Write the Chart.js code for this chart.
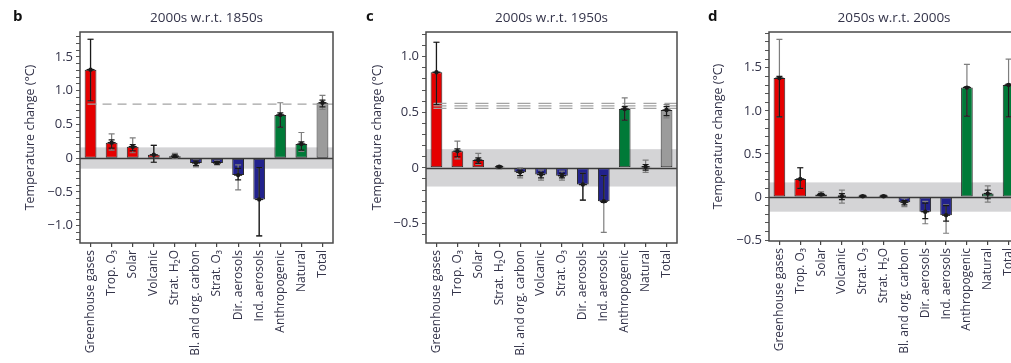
<!DOCTYPE html>
<html>
<head>
<meta charset="utf-8">
<script src="https://cdn.jsdelivr.net/npm/chart.js@4/dist/chart.umd.min.js"></script>
<style>
  html, body { margin: 0; padding: 0; background: #fff; overflow: hidden; width: 1011px; height: 363px; }
  .panel { position: absolute; top: 0; height: 363px; }
</style>
</head>
<body>
<div class="panel" style="left:0px;width:345px"><canvas id="panelB" width="345" height="363"></canvas></div>
<div class="panel" style="left:345px;width:345px"><canvas id="panelC" width="345" height="363"></canvas></div>
<div class="panel" style="left:690px;width:340px"><canvas id="panelD" width="340" height="363"></canvas></div>
<script>
// ---- Panel b: 2000s w.r.t. 1850s ----
const labelsB = ['Greenhouse gases', 'Trop. O\u2083', 'Solar', 'Volcanic', 'Strat. H\u2082O',
  'Bl. and org. carbon', 'Strat. O\u2083', 'Dir. aerosols', 'Ind. aerosols', 'Anthropogenic', 'Natural', 'Total'];
const valuesB  = [1.31, 0.23, 0.17, 0.05, 0.03, -0.07, -0.07, -0.25, -0.61, 0.64, 0.21, 0.82];
const outerLoB = [0.85, 0.12, 0.08, -0.06, 0.00, -0.13, -0.10, -0.47, -1.15, 0.46, 0.10, 0.72];
const outerHiB = [1.76, 0.36, 0.30, 0.19, 0.07, -0.03, -0.04, -0.10, -0.14, 0.82, 0.38, 0.93];
const innerLoB = [0.85, 0.15, 0.11, -0.06, 0.01, -0.11, -0.09, -0.32, -1.15, 0.46, 0.12, 0.76];
const innerHiB = [1.76, 0.27, 0.20, 0.19, 0.05, -0.04, -0.05, -0.15, -0.14, 0.67, 0.24, 0.86];
const refLinesB = [0.8];
const bandB = [-0.155, 0.16];

// ---- Panel c: 2000s w.r.t. 1950s ----
const labelsC = ['Greenhouse gases', 'Trop. O\u2083', 'Solar', 'Strat. H\u2082O', 'Bl. and org. carbon',
  'Volcanic', 'Strat. O\u2083', 'Dir. aerosols', 'Ind. aerosols', 'Anthropogenic', 'Natural', 'Total'];
const valuesC  = [0.86, 0.15, 0.07, 0.01, -0.04, -0.06, -0.07, -0.15, -0.30, 0.53, 0.01, 0.52];
const outerLoC = [0.57, 0.08, 0.03, -0.01, -0.09, -0.11, -0.11, -0.29, -0.58, 0.43, -0.04, 0.45];
const outerHiC = [1.13, 0.24, 0.13, 0.02, 0.00, -0.02, -0.03, -0.05, -0.07, 0.63, 0.07, 0.57];
const innerLoC = [0.57, 0.10, 0.04, 0.00, -0.07, -0.09, -0.09, -0.29, -0.31, 0.43, -0.02, 0.47];
const innerHiC = [1.13, 0.17, 0.09, 0.015, -0.02, -0.04, -0.05, -0.05, -0.07, 0.55, 0.03, 0.55];
const refLinesC = [0.535, 0.558, 0.58];
const bandC = [-0.168, 0.168];

// ---- Panel d: 2050s w.r.t. 2000s ----
const labelsD = ['Greenhouse gases', 'Trop. O\u2083', 'Solar', 'Volcanic', 'Strat. O\u2083',
  'Strat. H\u2082O', 'Bl. and org. carbon', 'Dir. aerosols', 'Ind. aerosols', 'Anthropogenic', 'Natural', 'Total'];
const valuesD  = [1.38, 0.21, 0.03, 0.01, 0.01, 0.01, -0.06, -0.17, -0.21, 1.27, 0.04, 1.30];
const outerLoD = [0.93, 0.10, 0.01, -0.07, 0.00, 0.00, -0.11, -0.31, -0.42, 0.94, -0.06, 0.93];
const outerHiD = [1.83, 0.34, 0.06, 0.08, 0.02, 0.02, -0.02, -0.05, -0.09, 1.54, 0.13, 1.60];
const innerLoD = [0.93, 0.10, 0.02, -0.03, 0.00, 0.00, -0.09, -0.25, -0.28, 0.94, -0.02, 0.93];
const innerHiD = [1.40, 0.34, 0.04, 0.04, 0.02, 0.02, -0.04, -0.07, -0.10, 1.28, 0.08, 1.31];
const refLinesD = [];
const bandD = [-0.17, 0.17];

const RED = '#e50000', BLUE = '#22228c', GREEN = '#007a38', GREY = '#9b9b9b';
const colorsB = [RED, RED, RED, RED, RED, BLUE, BLUE, BLUE, BLUE, GREEN, GREEN, GREY];
const colorsC = [RED, RED, RED, RED, BLUE, BLUE, BLUE, BLUE, BLUE, GREEN, GREEN, GREY];
const colorsD = [RED, RED, RED, RED, RED, RED, BLUE, BLUE, BLUE, GREEN, GREEN, GREEN];

const FONT = '"Open Sans", "Noto Sans", "DejaVu Sans", sans-serif';
const TEXT = '#34344a';

function fmtTick(v) {
  const t = Math.round(v * 10);
  if (t % 5 !== 0) return '';
  if (t === 0) return '0';
  return (t < 0 ? '\u2212' : '') + Math.abs(t / 10).toFixed(1);
}

// Shaded band, zero line, frame, reference lines, error bars and text
const decorations = {
  id: 'decorations',
  beforeDatasetsDraw(chart, args, o) {
    const { ctx, chartArea: a, scales: { y } } = chart;
    ctx.save();
    ctx.fillStyle = '#d4d4d6';
    const yTop = y.getPixelForValue(o.band[1]), yBot = y.getPixelForValue(o.band[0]);
    ctx.fillRect(a.left, yTop, a.right - a.left, yBot - yTop);
    ctx.strokeStyle = '#3a3a3a';
    ctx.lineWidth = 1.3;
    const y0 = Math.round(y.getPixelForValue(0)) + 0.5;
    ctx.beginPath(); ctx.moveTo(a.left, y0); ctx.lineTo(a.right, y0); ctx.stroke();
    ctx.restore();
  },
  afterDatasetsDraw(chart, args, o) {
    const { ctx, chartArea: a, scales: { x, y } } = chart;
    ctx.save();
    // reference lines
    ctx.strokeStyle = '#a4a4a4';
    ctx.lineWidth = 1.2;
    ctx.setLineDash(o.dash);
    o.refs.forEach(v => {
      const py = y.getPixelForValue(v);
      ctx.beginPath(); ctx.moveTo(x.getPixelForValue(0) - 3, py); ctx.lineTo(a.right, py); ctx.stroke();
    });
    ctx.setLineDash([]);
    // error bars
    const meta = chart.getDatasetMeta(0);
    meta.data.forEach((el, i) => {
      const px = el.x;
      const drawBar = (lo, hi, color) => {
        const p1 = y.getPixelForValue(lo), p2 = y.getPixelForValue(hi);
        ctx.strokeStyle = color;
        ctx.lineWidth = 1.2;
        ctx.beginPath();
        ctx.moveTo(px, p1); ctx.lineTo(px, p2);
        ctx.moveTo(px - 3, p1); ctx.lineTo(px + 3, p1);
        ctx.moveTo(px - 3, p2); ctx.lineTo(px + 3, p2);
        ctx.stroke();
      };
      drawBar(o.outerLo[i], o.outerHi[i], '#7e7e7e');
      drawBar(o.innerLo[i], o.innerHi[i], '#1a1a1a');
      const pv = y.getPixelForValue(o.values[i]);
      ctx.fillStyle = '#1a1a1a';
      ctx.beginPath(); ctx.arc(px, pv, 2.2, 0, Math.PI * 2); ctx.fill();
      ctx.lineWidth = 1.4; ctx.strokeStyle = '#1a1a1a';
      ctx.beginPath(); ctx.moveTo(px - 4, pv); ctx.lineTo(px + 4, pv); ctx.stroke();
    });
    // frame
    ctx.strokeStyle = '#4a4a4a';
    ctx.lineWidth = 1.5;
    ctx.strokeRect(a.left, a.top, a.right - a.left, a.bottom - a.top);
    ctx.restore();
  },
  afterDraw(chart, args, o) {
    const { ctx, chartArea: a } = chart;
    ctx.save();
    ctx.fillStyle = '#111';
    ctx.font = 'bold 15px ' + FONT;
    ctx.textAlign = 'left'; ctx.textBaseline = 'middle';
    ctx.fillText(o.letter, o.letterX, 17);
    ctx.fillStyle = TEXT;
    ctx.font = '13.5px ' + FONT;
    ctx.textAlign = 'center';
    ctx.fillText(o.title, (a.left + a.right) / 2, 18);
    ctx.translate(o.yTitleX, (a.top + a.bottom) / 2);
    ctx.rotate(-Math.PI / 2);
    ctx.font = '12.5px ' + FONT;
    ctx.fillText('Temperature change (\u00B0C)', 0, 0);
    ctx.restore();
  }
};

function makePanel(id, cfg) {
  return new Chart(document.getElementById(id), {
    type: 'bar',
    data: {
      labels: cfg.labels,
      datasets: [{
        data: cfg.values,
        backgroundColor: cfg.colors,
        borderColor: '#2a2a2a',
        borderWidth: 1,
        borderSkipped: false,
        barPercentage: 0.56,
        categoryPercentage: 1.0
      }]
    },
    options: {
      responsive: false,
      animation: false,
      layout: { padding: { top: 32, right: cfg.padRight, left: 0, bottom: 0 } },
      plugins: {
        legend: { display: false },
        tooltip: { enabled: false },
        decorations: {
          band: cfg.band, refs: cfg.refs, dash: cfg.dash,
          values: cfg.values, outerLo: cfg.outerLo, outerHi: cfg.outerHi,
          innerLo: cfg.innerLo, innerHi: cfg.innerHi,
          letter: cfg.letter, letterX: cfg.letterX, title: cfg.title, yTitleX: cfg.yTitleX
        }
      },
      scales: {
        x: {
          grid: { display: true, drawOnChartArea: false, offset: false, tickLength: 4, color: '#444', lineWidth: 1.2 },
          border: { display: false },
          ticks: {
            minRotation: 90, maxRotation: 90, autoSkip: false, padding: 3,
            color: TEXT, font: { family: FONT, size: 12 }
          },
          afterFit(s) { s.height = cfg.xHeight; }
        },
        y: {
          min: cfg.min, max: cfg.max,
          grid: { display: true, drawOnChartArea: false, tickLength: 4, color: '#555', lineWidth: 1 },
          border: { display: false },
          ticks: {
            stepSize: 0.1, includeBounds: false, autoSkip: false, padding: 3,
            color: TEXT, font: { family: FONT, size: 13 },
            callback: v => fmtTick(v)
          },
          afterFit(s) { s.width = cfg.yWidth; }
        }
      }
    },
    plugins: [decorations]
  });
}

makePanel('panelB', {
  labels: labelsB, values: valuesB, colors: colorsB,
  outerLo: outerLoB, outerHi: outerHiB, innerLo: innerLoB, innerHi: innerHiB,
  refs: refLinesB, dash: [9, 6], band: bandB,
  min: -1.255, max: 1.867, yWidth: 80, xHeight: 120, padRight: 12,
  letter: 'b', letterX: 13, title: '2000s w.r.t. 1850s', yTitleX: 30
});
makePanel('panelC', {
  labels: labelsC, values: valuesC, colors: colorsC,
  outerLo: outerLoC, outerHi: outerHiC, innerLo: innerLoC, innerHi: innerHiC,
  refs: refLinesC, dash: [13, 8], band: bandC,
  min: -0.676, max: 1.222, yWidth: 81, xHeight: 120, padRight: 13,
  letter: 'c', letterX: 21, title: '2000s w.r.t. 1950s', yTitleX: 32
});
makePanel('panelD', {
  labels: labelsD, values: valuesD, colors: colorsD,
  outerLo: outerLoD, outerHi: outerHiD, innerLo: innerLoD, innerHi: innerHiD,
  refs: refLinesD, dash: [9, 6], band: bandD,
  min: -0.51, max: 1.915, yWidth: 79, xHeight: 122, padRight: 11,
  letter: 'd', letterX: 18, title: '2050s w.r.t. 2000s', yTitleX: 28
});
</script>
</body>
</html>
